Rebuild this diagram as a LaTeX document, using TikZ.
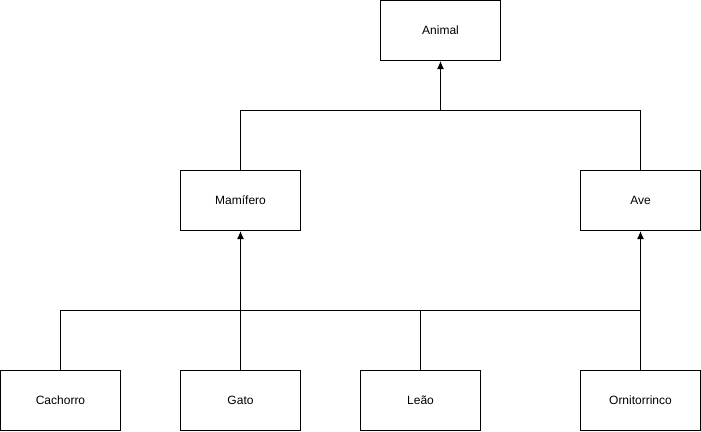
\documentclass[tikz,border=0pt]{standalone}
\usepackage{fontspec}
\setmainfont{Liberation Sans}
\usetikzlibrary{arrows.meta}

\begin{document}
\begin{tikzpicture}[x=1pt, y=-1pt,
        classe/.style={draw, line width=1pt, minimum width=120pt, minimum height=60pt,
            inner sep=0pt, font=\fontsize{12}{14}\selectfont},
        heranca/.style={line width=1pt, -{Latex[length=8pt,width=7pt]}},
        linha/.style={line width=1pt}]
    \useasboundingbox (0,0) rectangle (701,431);

    \node[classe] (animal) at (440.5,30.5) {Animal};
    \node[classe] (mamifero) at (240.5,200.5) {Mamífero};
    \node[classe] (ave) at (640.5,200.5) {Ave};

    \node[classe] (cachorro) at (60.5,400.5) {Cachorro};
    \node[classe] (gato) at (240.5,400.5) {Gato};
    \node[classe] (leao) at (420.5,400.5) {Leão};
    \node[classe] (orni) at (640.5,400.5) {Ornitorrinco};

    \coordinate (topo) at (440.5,110.5);
    \coordinate (base) at (240.5,310.5);

    % Mamífero e Ave herdam de Animal
    \draw[linha] (mamifero.north) |- (topo);
    \draw[linha] (ave.north) |- (topo);
    \draw[heranca] (topo) -- (animal.south);

    % filhos de Mamífero
    \draw[linha] (cachorro.north) |- (base);
    \draw[linha] (gato.north) -- (base);
    \draw[linha] (leao.north) |- (base);
    \draw[linha] (orni.north) |- (base);
    \draw[heranca] (base) -- (mamifero.south);

    % Ornitorrinco herda de Ave
    \draw[heranca] (orni.north) -- (ave.south);
\end{tikzpicture}
\end{document}
